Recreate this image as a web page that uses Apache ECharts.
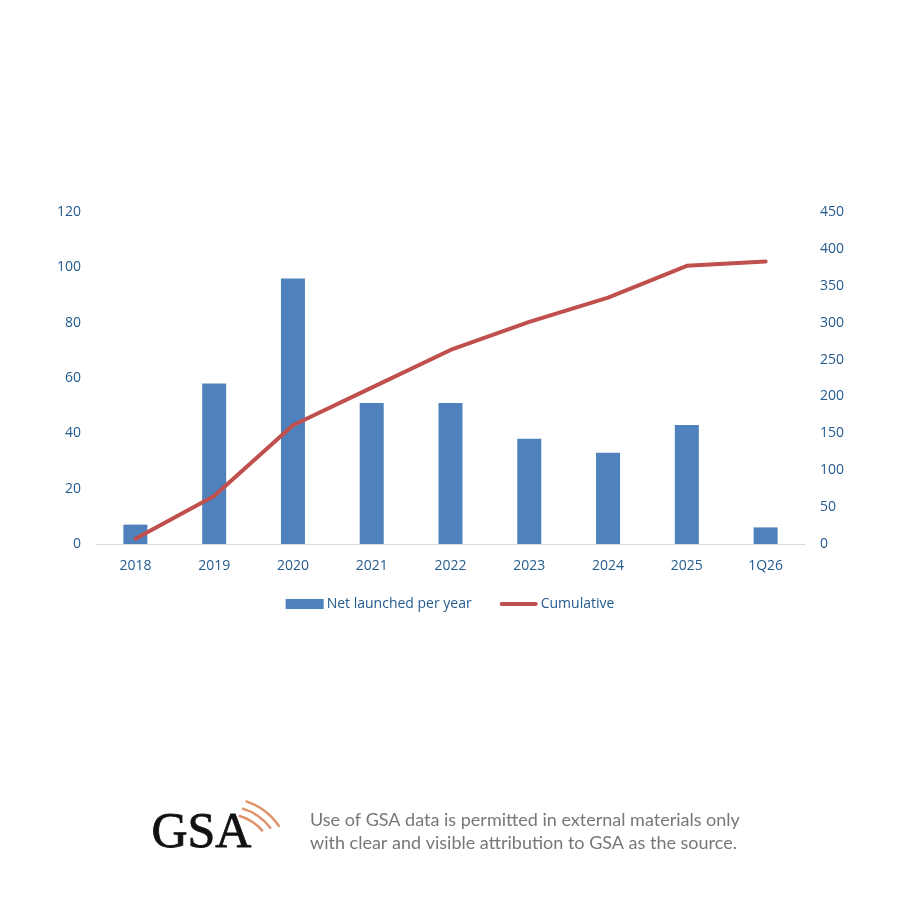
<!DOCTYPE html>
<html>
<head>
<meta charset="utf-8">
<script src="https://cdn.jsdelivr.net/npm/echarts@6/dist/echarts.min.js"></script>
<style>
html,body{margin:0;padding:0;background:#fff;}
#chart{width:900px;height:900px;}
</style>
</head>
<body>
<div id="chart"></div>
<script>
const categories = ['2018','2019','2020','2021','2022','2023','2024','2025','1Q26'];
const netLaunched = [7, 58, 96, 51, 51, 38, 33, 43, 6];
const cumulative = [7, 65, 161, 212, 263, 301, 334, 377, 383];
const leftTicks = {min: 0, max: 120, interval: 20};
const rightTicks = {min: 0, max: 450, interval: 50};
const footerLines = ['Use of GSA data is permitted in external materials only', 'with clear and visible attribution to GSA as the source.'];

const txt = '#245B8F';
const chart = echarts.init(document.getElementById('chart'), null, {renderer: 'canvas'});
const arcColor = '#E0936B';
chart.setOption({
  backgroundColor: '#ffffff',
  animation: false,
  textStyle: {fontFamily: 'Open Sans'},
  grid: {left: 96, right: 95, top: 212, bottom: 356, containLabel: false},
  legend: {
    top: 592,
    left: 'center',
    itemGap: 28,
    itemWidth: 38,
    itemHeight: 10,
    textStyle: {color: txt, fontSize: 14, fontFamily: 'Open Sans', padding: [0,0,0,-2]},
    data: [
      {name: 'Net launched per year', icon: 'rect'},
      {name: 'Cumulative', icon: 'path://M2,0 L38,0 A2,2 0 0 1 38,4 L2,4 A2,2 0 0 1 2,0 Z'}
    ]
  },
  xAxis: {
    type: 'category',
    data: categories,
    axisLine: {lineStyle: {color: '#D9D9D9', width: 1}},
    axisTick: {show: false},
    axisLabel: {color: txt, fontSize: 14, margin: 15, fontFamily: 'Open Sans'}
  },
  yAxis: [
    {
      type: 'value', min: leftTicks.min, max: leftTicks.max, interval: leftTicks.interval,
      splitLine: {show: false}, axisLine: {show: false}, axisTick: {show: false},
      axisLabel: {color: txt, fontSize: 14, margin: 15, fontFamily: 'Open Sans'}
    },
    {
      type: 'value', min: rightTicks.min, max: rightTicks.max, interval: rightTicks.interval,
      splitLine: {show: false}, axisLine: {show: false}, axisTick: {show: false},
      axisLabel: {color: txt, fontSize: 14, margin: 15, fontFamily: 'Open Sans'}
    }
  ],
  series: [
    {
      name: 'Net launched per year', type: 'bar', data: netLaunched, yAxisIndex: 0,
      barWidth: 24, itemStyle: {color: '#4F81BD'}
    },
    {
      name: 'Cumulative', type: 'line', data: cumulative, yAxisIndex: 1,
      symbol: 'none', smooth: false,
      lineStyle: {color: '#C0504D', width: 4, cap: 'round', join: 'round'},
      itemStyle: {color: '#C0504D'}
    }
  ],
  graphic: [
    {type: 'text', left: 151, top: 808, style: {text: 'GSA', font: '50px "Liberation Serif"', fill: '#111', stroke: '#111', lineWidth: 0.8}},
    {type: 'arc', shape: {cx: 226, cy: 862, r: 48, startAngle: -1.30, endAngle: -0.70}, style: {stroke: arcColor, lineWidth: 2.5, fill: 'none'}},
    {type: 'arc', shape: {cx: 226, cy: 862, r: 56, startAngle: -1.28, endAngle: -0.64}, style: {stroke: arcColor, lineWidth: 2.5, fill: 'none'}},
    {type: 'arc', shape: {cx: 226, cy: 862, r: 64, startAngle: -1.26, endAngle: -0.58}, style: {stroke: arcColor, lineWidth: 2.5, fill: 'none'}},
    {type: 'text', left: 310, top: 811, style: {text: footerLines[0], font: '18px Lato', fill: '#777777'}},
    {type: 'text', left: 310, top: 834, style: {text: footerLines[1], font: '18px Lato', fill: '#777777'}}
  ]
});
</script>
</body>
</html>
